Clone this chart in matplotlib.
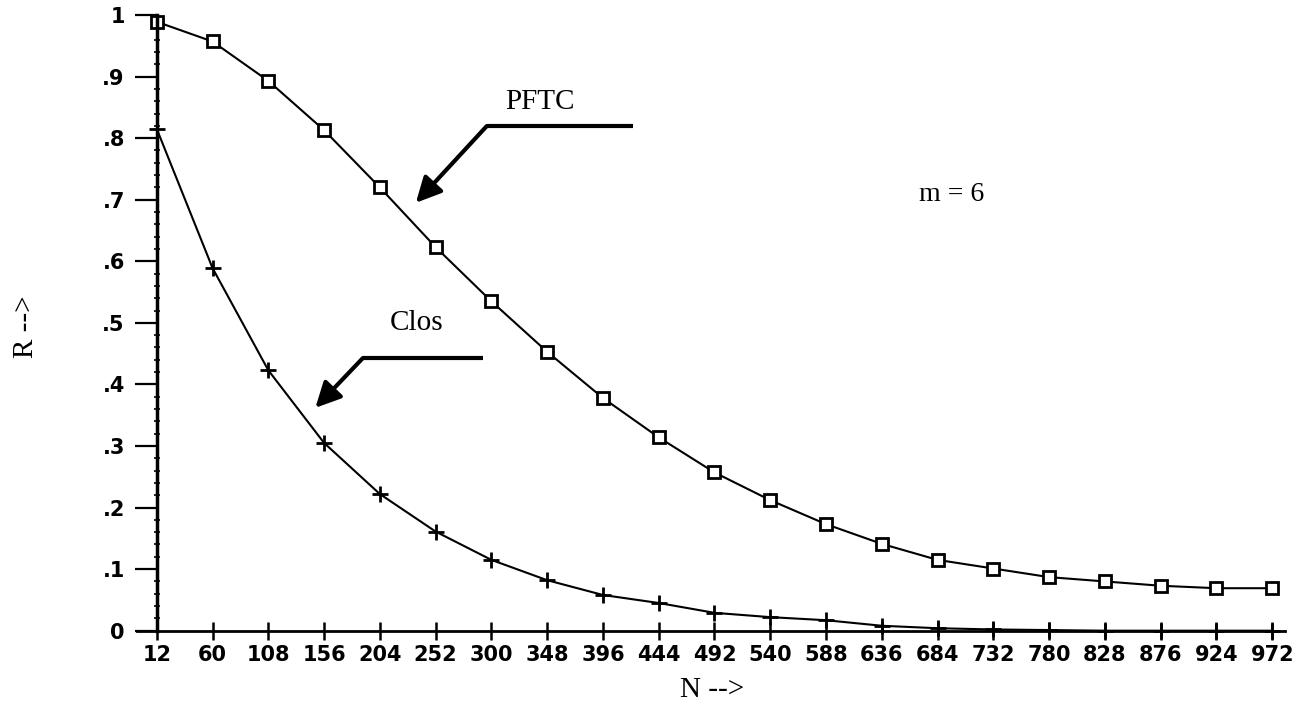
import matplotlib
matplotlib.use("Agg")
import matplotlib.pyplot as plt
import numpy as np

# N values (x axis) and reliability R for the two networks
n_vals = [12, 60, 108, 156, 204, 252, 300, 348, 396, 444, 492,
          540, 588, 636, 684, 732, 780, 828, 876, 924, 972]
pftc_r = [0.989, 0.957, 0.893, 0.813, 0.72, 0.623, 0.535, 0.453, 0.378, 0.314, 0.257,
          0.212, 0.173, 0.141, 0.115, 0.101, 0.087, 0.080, 0.073, 0.069, 0.069]
clos_r = [0.815, 0.589, 0.423, 0.305, 0.222, 0.161, 0.115, 0.082, 0.058, 0.045, 0.029,
          0.022, 0.017, 0.008, 0.004, 0.002, 0.001, 0.0, 0.0, 0.0, 0.0]
y_ticks = [0, 0.1, 0.2, 0.3, 0.4, 0.5, 0.6, 0.7, 0.8, 0.9, 1.0]
y_labels = ['0', '.1', '.2', '.3', '.4', '.5', '.6', '.7', '.8', '.9', '1']

serif = 'Liberation Serif'

fig = plt.figure(figsize=(13.06, 7.12), dpi=100)
ax = fig.add_axes([0.1049, 0.1142, 0.879, 0.8647])

# curves
ax.plot(n_vals, pftc_r, color='black', lw=1.5, marker='s', markersize=8,
        markerfacecolor='white', markeredgecolor='black', markeredgewidth=2, clip_on=False)
ax.plot(n_vals, clos_r, color='black', lw=1.5, marker='+', markersize=11,
        markeredgewidth=2, clip_on=False)

# axes look
ax.set_xlim(-5, 983)
ax.set_ylim(0, 1)
ax.spines['top'].set_visible(False)
ax.spines['right'].set_visible(False)
ax.spines['left'].set_position(('data', 12))
ax.spines['left'].set_linewidth(2.5)
ax.spines['bottom'].set_linewidth(2.0)

ax.set_xticks(n_vals)
ax.set_xticklabels([str(v) for v in n_vals])
ax.set_yticks(y_ticks)
ax.set_yticklabels(y_labels)
ax.set_yticks(np.arange(0, 1.0, 0.02), minor=True)

ax.tick_params(axis='x', direction='inout', length=13, width=1.8, pad=4)
ax.tick_params(axis='y', direction='out', length=16, width=1.6, pad=7)
ax.tick_params(axis='y', which='minor', direction='inout', length=5, width=1.2)
for lab in ax.get_xticklabels() + ax.get_yticklabels():
    lab.set_fontfamily('DejaVu Sans')
    lab.set_fontweight('bold')
    lab.set_fontsize(15)

# annotations with bent arrows
ax.text(342, 0.859, 'PFTC', family=serif, fontsize=21, ha='center', va='center')
ax.plot([422, 296], [0.8196, 0.8196], color='black', lw=3, solid_capstyle='butt')
ax.annotate('', xy=(235, 0.695), xytext=(296, 0.8196),
            arrowprops=dict(arrowstyle='-|>', color='black', lw=3, mutation_scale=38,
                            shrinkA=0, shrinkB=0))

ax.text(236, 0.50, 'Clos', family=serif, fontsize=21, ha='center', va='center')
ax.plot([293, 189.5], [0.443, 0.443], color='black', lw=3, solid_capstyle='butt')
ax.annotate('', xy=(148.5, 0.362), xytext=(189.5, 0.443),
            arrowprops=dict(arrowstyle='-|>', color='black', lw=3, mutation_scale=38,
                            shrinkA=0, shrinkB=0))

ax.text(696, 0.708, 'm = 6', family=serif, fontsize=20, ha='center', va='center')

fig.text(0.545, 0.031, 'N -->', family=serif, fontsize=21, ha='center', va='center')
fig.text(0.02, 0.541, 'R -->', family=serif, fontsize=21, ha='center', va='center',
         rotation=90)

fig.savefig('out.png', dpi=100)
